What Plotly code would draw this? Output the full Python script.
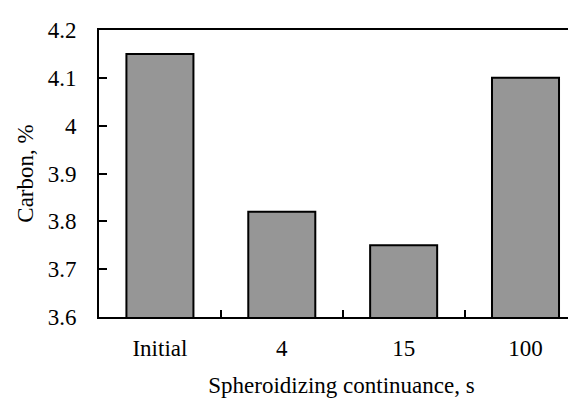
import plotly.graph_objects as go

categories = ["Initial", "4", "15", "100"]
carbon = [4.15, 3.82, 3.75, 4.10]
y_ticks = [3.6, 3.7, 3.8, 3.9, 4.0, 4.1, 4.2]
y_tick_labels = ["3.6", "3.7", "3.8", "3.9", "4", "4.1", "4.2"]

fig = go.Figure(go.Bar(
    x=categories, y=carbon, width=0.55,
    marker=dict(color="#969696", line=dict(color="black", width=2)),
))

font = dict(family="Liberation Serif", size=23, color="black")

fig.update_layout(
    width=576, height=403,
    margin=dict(l=91, r=0, t=22, b=94),
    paper_bgcolor="white", plot_bgcolor="white",
    font=font, showlegend=False,
    xaxis=dict(
        type="category", range=[-0.5, 3.48],
        showline=True, linecolor="black", linewidth=2, mirror=True,
        ticks="inside", tickson="boundaries", ticklen=7, tickwidth=2, tickcolor="black",
        showgrid=False, ticklabelstandoff=9,
        title=dict(text="Spheroidizing continuance, s", standoff=17, font=font),
    ),
    yaxis=dict(
        range=[3.6, 4.2], tickvals=y_ticks, ticktext=y_tick_labels,
        showline=True, linecolor="black", linewidth=2,
        ticks="inside", ticklen=8, tickwidth=2, tickcolor="black",
        showgrid=False, zeroline=False, ticklabelstandoff=16,
        title=dict(text="Carbon, %", standoff=8, font=font),
    ),
)

fig.write_html("out.html")
